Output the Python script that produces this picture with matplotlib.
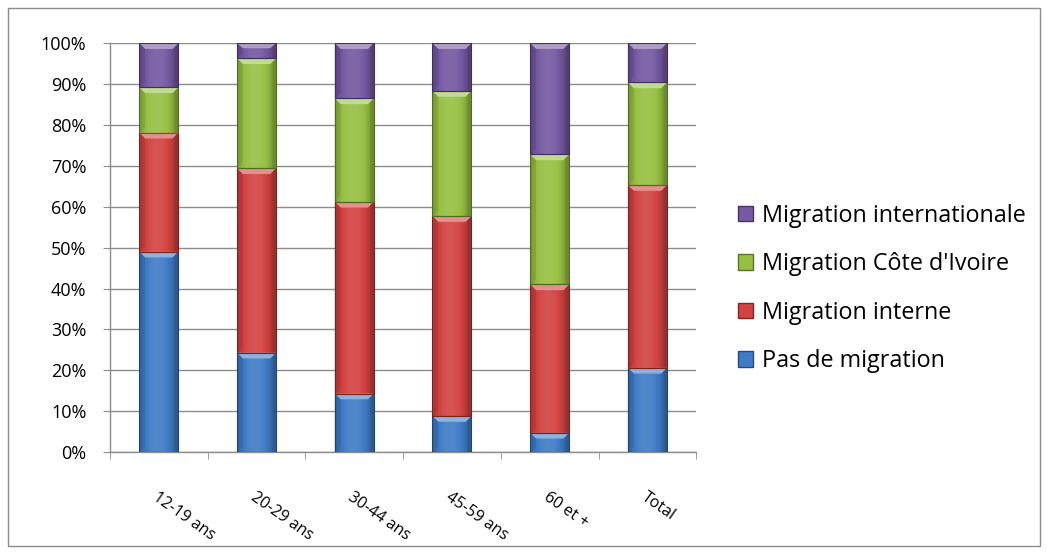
import numpy as np
import matplotlib
matplotlib.use("Agg")
import matplotlib.pyplot as plt
from matplotlib.patches import Patch, Polygon, Rectangle
from matplotlib.colors import to_rgb
from matplotlib.ticker import PercentFormatter, MultipleLocator

plt.rcParams['font.family'] = ['Open Sans', 'DejaVu Sans']

# age groups and share of each migration type (%)
categories = ["12-19 ans", "20-29 ans", "30-44 ans", "45-59 ans", "60 et +", "Total"]
pas_de_migration = [49.0, 24.3, 14.3, 8.8, 4.7, 20.6]
migration_interne = [29.1, 45.1, 46.9, 48.9, 36.3, 44.7]
migration_ci = [11.1, 26.9, 25.3, 30.6, 31.8, 25.1]
migration_intl = [10.8, 3.7, 13.5, 11.7, 27.2, 9.6]

series = [
    ("Pas de migration", pas_de_migration, "#3f7cc6"),
    ("Migration interne", migration_interne, "#d24341"),
    ("Migration Côte d'Ivoire", migration_ci, "#97c043"),
    ("Migration internationale", migration_intl, "#7559a2"),
]


def shade(rgb, k):
    rgb = np.array(rgb)
    if k >= 1:
        return 1 - (1 - rgb) / k
    return rgb * k


def cylinder(ax, patch, color):
    # horizontal shading + light bevel on top, Excel-2007 style
    x0, y0 = patch.get_x(), patch.get_y()
    w, h = patch.get_width(), patch.get_height()
    base = to_rgb(color)
    t = np.linspace(0, 1, 64)
    k = 0.72 + 0.38 * np.sin(np.pi * np.clip(t * 1.1, 0, 1)) ** 0.6
    img = np.array([[shade(base, v) for v in k]])
    im = ax.imshow(img, extent=(x0, x0 + w, y0, y0 + h), aspect='auto',
                   zorder=3, interpolation='bilinear')
    im.set_clip_path(patch)
    bev = min(1.4, h / 3)
    d = w * 0.15
    top = y0 + h
    ax.add_patch(Polygon([(x0, top), (x0 + w, top), (x0 + w - d, top - bev), (x0 + d, top - bev)],
                         closed=True, facecolor=shade(base, 1.7), edgecolor='none', zorder=4))
    ax.add_patch(Polygon([(x0, top), (x0 + d, top - bev), (x0 + d, y0 + bev), (x0, y0)],
                         closed=True, facecolor=shade(base, 0.8), edgecolor='none', zorder=4, alpha=0.5))
    ax.add_patch(Rectangle((x0, y0), w, h, facecolor='none', edgecolor=shade(base, 0.55),
                           linewidth=0.8, zorder=5))


fig = plt.figure(figsize=(10.47, 5.54), dpi=100)
ax = fig.add_axes([0.105, 0.184, 0.56, 0.738])

x = np.arange(len(categories))
bottom = np.zeros(len(categories))
for name, vals, col in series:
    bars = ax.bar(x, vals, width=0.4, bottom=bottom, color=col, zorder=2, linewidth=0)
    for p in bars:
        cylinder(ax, p, col)
    bottom += np.array(vals)

ax.set_xlim(-0.5, len(categories) - 0.5)
ax.set_ylim(0, 100)
ax.yaxis.set_major_locator(MultipleLocator(10))
ax.yaxis.set_major_formatter(PercentFormatter(decimals=0))
ax.grid(axis='y', color='#8c8c8c', linewidth=1.0, zorder=0)
ax.set_axisbelow(True)

for s in ['top', 'right']:
    ax.spines[s].set_visible(False)
for s in ['left', 'bottom']:
    ax.spines[s].set_color('#8c8c8c')
    ax.spines[s].set_linewidth(1.0)

ax.tick_params(axis='y', length=5, color='#8c8c8c', pad=12, labelsize=13)
ax.set_xticks(x)
ax.set_xticklabels(categories)
ax.tick_params(axis='x', length=0, pad=27, labelsize=11.5)
for lbl in ax.get_xticklabels():
    lbl.set_rotation(-35)
    lbl.set_rotation_mode('anchor')
    lbl.set_ha('left')
    lbl.set_va('top')
# category boundary ticks
ax.set_xticks(np.arange(-0.5, len(categories)), minor=True)
ax.tick_params(axis='x', which='minor', length=5, color='#8c8c8c')

handles = [Patch(facecolor=col, edgecolor=shade(to_rgb(col), 0.6), label=name)
           for name, _, col in series][::-1]
fig.legend(handles=handles, loc='center left', bbox_to_anchor=(0.685, 0.479),
           frameon=False, fontsize=16.8, handlelength=0.65, handleheight=0.65,
           handletextpad=0.36, labelspacing=1.05)

fig.add_artist(Rectangle((0.008, 0.014), 0.985, 0.972, transform=fig.transFigure,
                         fill=False, edgecolor='#8c8c8c', linewidth=1.0))

fig.savefig("out.png", dpi=100)
